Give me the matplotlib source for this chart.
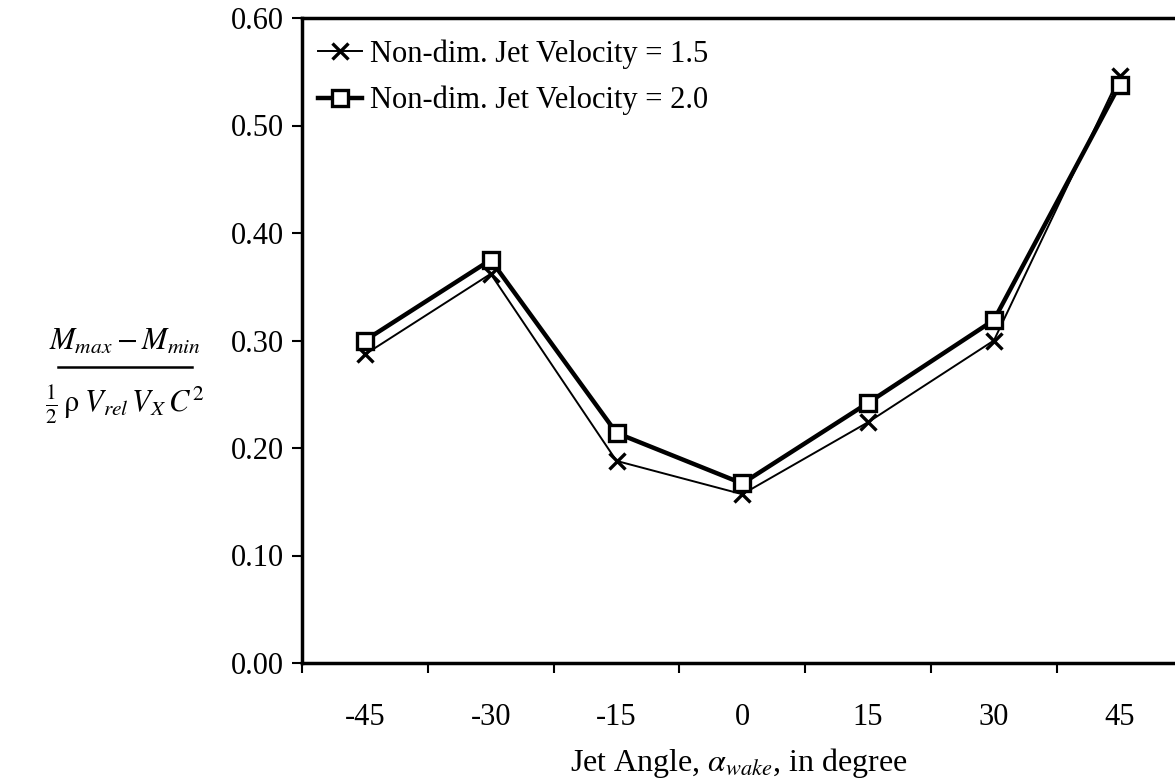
import numpy as np
import matplotlib
matplotlib.use("Agg")
import matplotlib.pyplot as plt
from matplotlib.lines import Line2D

plt.rcParams['font.family'] = ['Liberation Serif', 'DejaVu Serif']
plt.rcParams['mathtext.fontset'] = 'stix'

# jet angle categories and moment amplitude for each jet velocity
angles = ["-45", "-30", "-15", "0", "15", "30", "45"]
vel_15 = [0.287, 0.362, 0.188, 0.157, 0.224, 0.300, 0.546]
vel_20 = [0.300, 0.375, 0.214, 0.167, 0.242, 0.319, 0.538]
yticks = [0.00, 0.10, 0.20, 0.30, 0.40, 0.50, 0.60]

W, H = 1175, 784
fig = plt.figure(figsize=(W / 100, H / 100), dpi=100)
ax = fig.add_axes([302 / W, 1 - 663 / H, (W - 302) / W, (663 - 18) / H])

x = np.arange(len(angles))
ax.plot(x, vel_15, color="black", lw=1.4, marker="x", ms=12, mew=2.4,
        label="Non-dim. Jet Velocity = 1.5")
ax.plot(x, vel_20, color="black", lw=3.2, marker="s", ms=11, mew=2.4,
        mfc="white", label="Non-dim. Jet Velocity = 2.0")

ax.set_ylim(0, 0.6)
ax.set_xlim(-0.5, (W - 302) / 125.8 - 0.5)
ax.set_yticks(yticks)
ax.set_yticklabels([f"{v:.2f}" for v in yticks], fontsize=22)
ax.set_xticks(x)
ax.set_xticklabels(angles, fontsize=22)
ax.set_xticks(np.arange(-0.5, 6.5, 1.0), minor=True)
ax.tick_params(axis="x", which="major", length=0, pad=29)
ax.tick_params(axis="x", which="minor", length=7, width=1.5, direction="out")
ax.tick_params(axis="y", length=7, width=1.5, direction="out", pad=6)

for s in ("left", "bottom", "top"):
    ax.spines[s].set_linewidth(2.5)
ax.spines["right"].set_visible(False)

ax.set_xlabel(r"Jet Angle, $\alpha_{wake}$, in degree", fontsize=23, labelpad=10)

# y label drawn as a stacked fraction: numerator, bar, denominator
cx = 125 / W
fig.text(cx, 1 - 350 / H, r"$M_{max} - M_{min}$", fontsize=22,
         ha="center", va="baseline")
fig.add_artist(Line2D([58 / W, 192 / W], [1 - 367 / H] * 2,
                      transform=fig.transFigure, color="black", lw=1.8))
fig.text(cx, 1 - 412 / H,
         r"$\frac{1}{2}\,\mathrm{\rho}\;V_{rel}\,V_X\,C^2$", fontsize=22,
         ha="center", va="baseline")

ax.legend(loc="upper left", frameon=False, fontsize=22, handlelength=1.45,
          handletextpad=0.25, labelspacing=0.55, borderaxespad=0.2,
          bbox_to_anchor=(-0.003, 0.995))

fig.savefig("out.png", dpi=100)
